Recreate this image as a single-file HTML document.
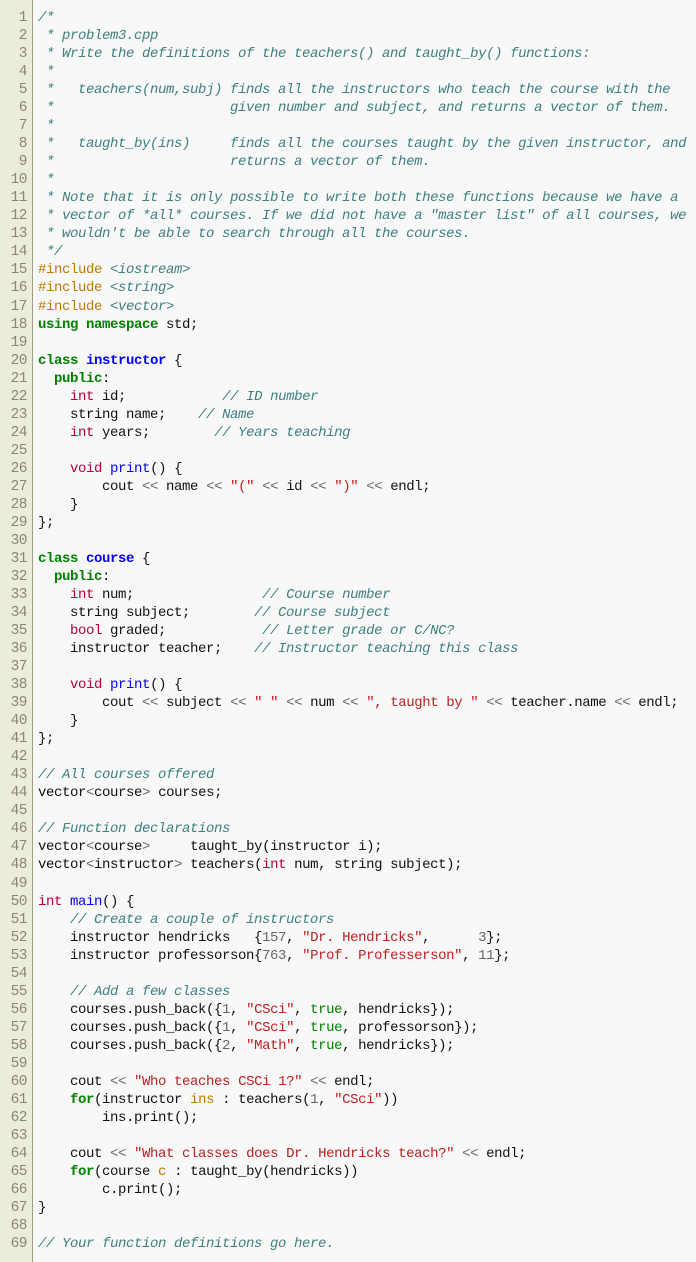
<!DOCTYPE html>
<html><head><meta charset="utf-8"><style>
html,body{margin:0;padding:0;background:#f8f8f8;width:696px;height:1262px;overflow:hidden}
.g{position:absolute;left:0;top:0;width:32px;height:1262px;background:#ececdc;border-right:1px solid #a0a080}
.n{position:absolute;left:0;top:9px;width:27px;text-align:right;color:#888870;font:14.5px/18.03px "Liberation Mono",monospace;letter-spacing:-0.5px;white-space:pre;margin:0}
pre{position:absolute;left:38px;top:9px;margin:0;font:14px/18.03px "Liberation Mono",monospace;letter-spacing:-0.4px;color:#111;white-space:pre}
.c{color:#408080;font-style:italic}
.k{color:#008000;font-weight:bold}
.t{color:#b00040}
.f{color:#0000ff}
.cl{color:#0000ff;font-weight:bold}
.s{color:#ba2121}
.m{color:#666}
.o{color:#666}
.p{color:#bc7a00}
.b{color:#008000}
.v{color:#bc7a00}
</style></head><body>
<div class="g"></div>
<pre class="n">1
2
3
4
5
6
7
8
9
10
11
12
13
14
15
16
17
18
19
20
21
22
23
24
25
26
27
28
29
30
31
32
33
34
35
36
37
38
39
40
41
42
43
44
45
46
47
48
49
50
51
52
53
54
55
56
57
58
59
60
61
62
63
64
65
66
67
68
69</pre>
<pre><span class="c">/*
 * problem3.cpp
 * Write the definitions of the teachers() and taught_by() functions:
 *
 *   teachers(num,subj) finds all the instructors who teach the course with the
 *                      given number and subject, and returns a vector of them.
 *
 *   taught_by(ins)     finds all the courses taught by the given instructor, and
 *                      returns a vector of them.
 *
 * Note that it is only possible to write both these functions because we have a
 * vector of *all* courses. If we did not have a "master list" of all courses, we
 * wouldn't be able to search through all the courses.
 */</span>
<span class="p">#include</span> <span class="c">&lt;iostream&gt;</span>
<span class="p">#include</span> <span class="c">&lt;string&gt;</span>
<span class="p">#include</span> <span class="c">&lt;vector&gt;</span>
<span class="k">using namespace</span> std;

<span class="k">class</span> <span class="cl">instructor</span> {
  <span class="k">public</span>:
    <span class="t">int</span> id;            <span class="c">// ID number</span>
    string name;    <span class="c">// Name</span>
    <span class="t">int</span> years;        <span class="c">// Years teaching</span>

    <span class="t">void</span> <span class="f">print</span>() {
        cout <span class="o">&lt;&lt;</span> name <span class="o">&lt;&lt;</span> <span class="s">"("</span> <span class="o">&lt;&lt;</span> id <span class="o">&lt;&lt;</span> <span class="s">")"</span> <span class="o">&lt;&lt;</span> endl;
    }
};

<span class="k">class</span> <span class="cl">course</span> {
  <span class="k">public</span>:
    <span class="t">int</span> num;                <span class="c">// Course number</span>
    string subject;        <span class="c">// Course subject</span>
    <span class="t">bool</span> graded;            <span class="c">// Letter grade or C/NC?</span>
    instructor teacher;    <span class="c">// Instructor teaching this class</span>

    <span class="t">void</span> <span class="f">print</span>() {
        cout <span class="o">&lt;&lt;</span> subject <span class="o">&lt;&lt;</span> <span class="s">" "</span> <span class="o">&lt;&lt;</span> num <span class="o">&lt;&lt;</span> <span class="s">", taught by "</span> <span class="o">&lt;&lt;</span> teacher.name <span class="o">&lt;&lt;</span> endl;
    }
};

<span class="c">// All courses offered</span>
vector<span class="o">&lt;</span>course<span class="o">&gt;</span> courses;

<span class="c">// Function declarations</span>
vector<span class="o">&lt;</span>course<span class="o">&gt;</span>     taught_by(instructor i);
vector<span class="o">&lt;</span>instructor<span class="o">&gt;</span> teachers(<span class="t">int</span> num, string subject);

<span class="t">int</span> <span class="f">main</span>() {
    <span class="c">// Create a couple of instructors</span>
    instructor hendricks   {<span class="m">157</span>, <span class="s">"Dr. Hendricks"</span>,      <span class="m">3</span>};
    instructor professorson{<span class="m">763</span>, <span class="s">"Prof. Professerson"</span>, <span class="m">11</span>};

    <span class="c">// Add a few classes</span>
    courses.push_back({<span class="m">1</span>, <span class="s">"CSci"</span>, <span class="b">true</span>, hendricks});
    courses.push_back({<span class="m">1</span>, <span class="s">"CSci"</span>, <span class="b">true</span>, professorson});
    courses.push_back({<span class="m">2</span>, <span class="s">"Math"</span>, <span class="b">true</span>, hendricks});

    cout <span class="o">&lt;&lt;</span> <span class="s">"Who teaches CSCi 1?"</span> <span class="o">&lt;&lt;</span> endl;
    <span class="k">for</span>(instructor <span class="v">ins</span> : teachers(<span class="m">1</span>, <span class="s">"CSci"</span>))
        ins.print();

    cout <span class="o">&lt;&lt;</span> <span class="s">"What classes does Dr. Hendricks teach?"</span> <span class="o">&lt;&lt;</span> endl;
    <span class="k">for</span>(course <span class="v">c</span> : taught_by(hendricks))
        c.print();
}

<span class="c">// Your function definitions go here.</span></pre>
</body></html>
